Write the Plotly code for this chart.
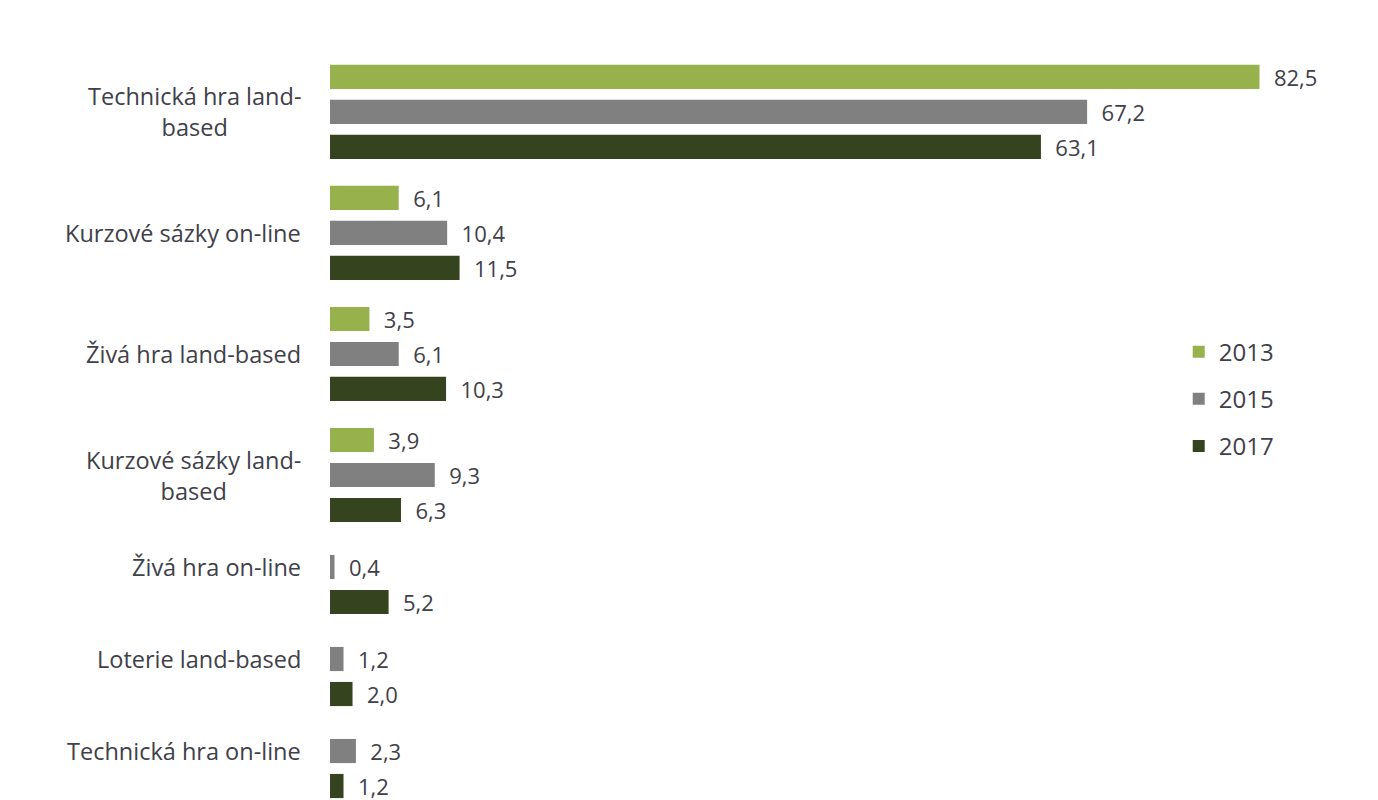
import plotly.graph_objects as go

CATEGORIES = [
    "Technická hra land-<br>based",
    "Kurzové sázky on-line",
    "Živá hra land-based",
    "Kurzové sázky land-<br>based",
    "Živá hra on-line",
    "Loterie land-based",
    "Technická hra on-line",
]
YEARS = ["2013", "2015", "2017"]
VALUES_2013 = [82.5, 6.1, 3.5, 3.9, None, None, None]
VALUES_2015 = [67.2, 10.4, 6.1, 9.3, 0.4, 1.2, 2.3]
VALUES_2017 = [63.1, 11.5, 10.3, 6.3, 5.2, 2.0, 1.2]
COLORS = ["#97b14d", "#808080", "#35431f"]

TEXT_COLOR = "#404049"
FONT = "Open Sans"

# slot layout: one row per bar, empty years collapse, small gap between groups
series = [VALUES_2013, VALUES_2015, VALUES_2017]
positions = [[None] * len(CATEGORIES) for _ in series]
label_pos = []
cursor = 0.0
for i in range(len(CATEGORIES)):
    present = [s for s in range(len(series)) if series[s][i] is not None]
    if i > 0:
        cursor += 1.46 if len(present) == 3 else 1.63
    for k, s in enumerate(present):
        positions[s][i] = cursor + k
    label_pos.append(positions[1][i])
    cursor += len(present) - 1
last_pos = cursor

fig = go.Figure()
for s, (year, vals) in enumerate(zip(YEARS, series)):
    ys = [p for p, v in zip(positions[s], vals) if v is not None]
    xs = [v for v in vals if v is not None]
    fig.add_trace(go.Bar(
        x=xs,
        y=ys,
        orientation="h",
        name=year,
        legendgroup=year,
        marker=dict(color=COLORS[s], line=dict(width=0)),
        width=0.69,
        texttemplate="\u00a0\u00a0%{x:.1f}",
        textposition="outside",
        constraintext="none",
        textfont=dict(size=22, color=TEXT_COLOR, family=FONT),
        cliponaxis=False,
        hoverinfo="x+name",
    ))

for cat, y in zip(CATEGORIES, label_pos):
    fig.add_annotation(
        x=-0.027, xref="paper", y=y, yref="y",
        text=cat, showarrow=False,
        xanchor="right", yanchor="middle", align="center",
        font=dict(size=23.5, color=TEXT_COLOR, family=FONT),
    )

fig.update_layout(
    width=1370,
    height=792,
    margin=dict(l=322, r=34, t=32, b=0),
    plot_bgcolor="white",
    paper_bgcolor="white",
    separators=", ",
    barmode="overlay",
    showlegend=True,
    legend=dict(
        x=0.837, y=0.619, xanchor="left", yanchor="top",
        font=dict(size=24, color=TEXT_COLOR, family=FONT),
        tracegroupgap=13,
        itemwidth=30,
        bgcolor="rgba(0,0,0,0)",
    ),
    font=dict(family=FONT, color=TEXT_COLOR),
)
fig.update_xaxes(visible=False, range=[0, 90])
fig.update_yaxes(visible=False, range=[last_pos + 0.4, -1.054])

fig.write_html("out.html")
